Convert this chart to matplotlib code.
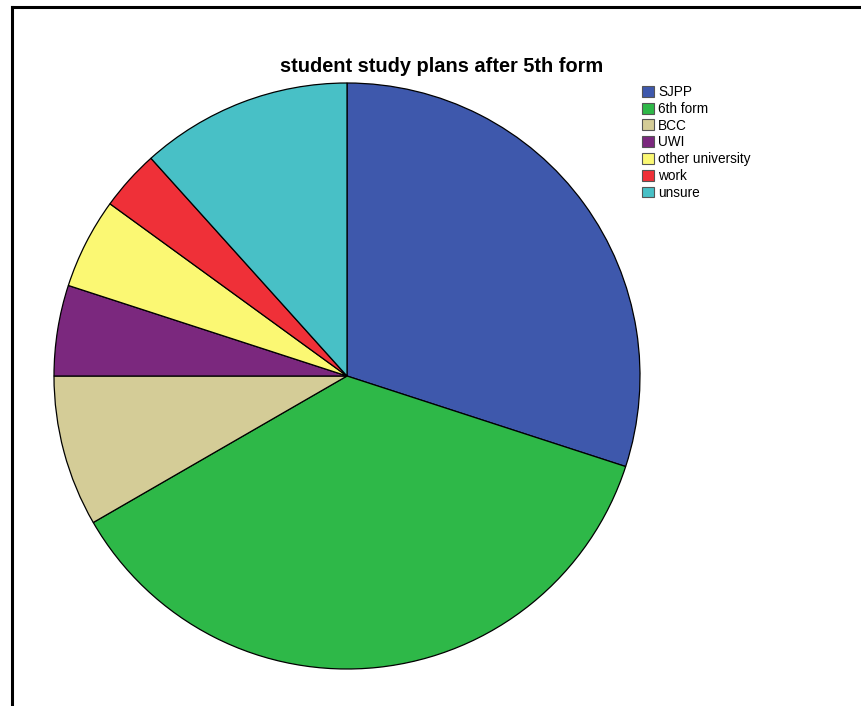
import matplotlib
matplotlib.use("Agg")
import matplotlib.pyplot as plt
from matplotlib.lines import Line2D

plt.rcParams['font.family'] = ['Liberation Sans', 'DejaVu Sans']

categories = ["SJPP", "6th form", "BCC", "UWI", "other university", "work", "unsure"]
counts = [18, 22, 5, 3, 3, 2, 7]
colors = ["#3E58AC", "#2EB848", "#D4CC97", "#7B287E", "#FBF873", "#EF3038", "#48C0C6"]

W, H = 861, 706
fig = plt.figure(figsize=(W / 100, H / 100), dpi=100)

# outer frame (top and left edges)
fig.add_artist(Line2D([11.5 / W, 1.0], [1 - 6.5 / H, 1 - 6.5 / H], color="black", lw=2.2,
                      transform=fig.transFigure))
fig.add_artist(Line2D([11.5 / W, 11.5 / W], [1 - 6.5 / H, 0.0], color="black", lw=2.2,
                      transform=fig.transFigure))

cx, cy, r = 347, 376, 293
ax = fig.add_axes([(cx - r) / W, (H - cy - r) / H, 2 * r / W, 2 * r / H])
wedges, _ = ax.pie(counts, colors=colors, startangle=90, counterclock=False,
                   radius=1.0, wedgeprops=dict(edgecolor="black", linewidth=0.9))
ax.set_xlim(-1, 1)
ax.set_ylim(-1, 1)
ax.set_aspect("equal")
ax.axis("off")

fig.text(442 / W, 1 - 67 / H, "student study plans after 5th form", ha="center", va="center",
         fontsize=14.4, fontweight="bold")

leg = fig.legend(wedges, categories, loc="upper left", bbox_to_anchor=(642 / W, 1 - 85 / H),
                 frameon=False, fontsize=9.8, handlelength=0.85, handleheight=0.85,
                 handletextpad=0.35, labelspacing=0.205, borderpad=0, borderaxespad=0)
for p in leg.get_patches():
    p.set_edgecolor("#555555")
    p.set_linewidth(0.8)

fig.savefig("out.png", dpi=100)
